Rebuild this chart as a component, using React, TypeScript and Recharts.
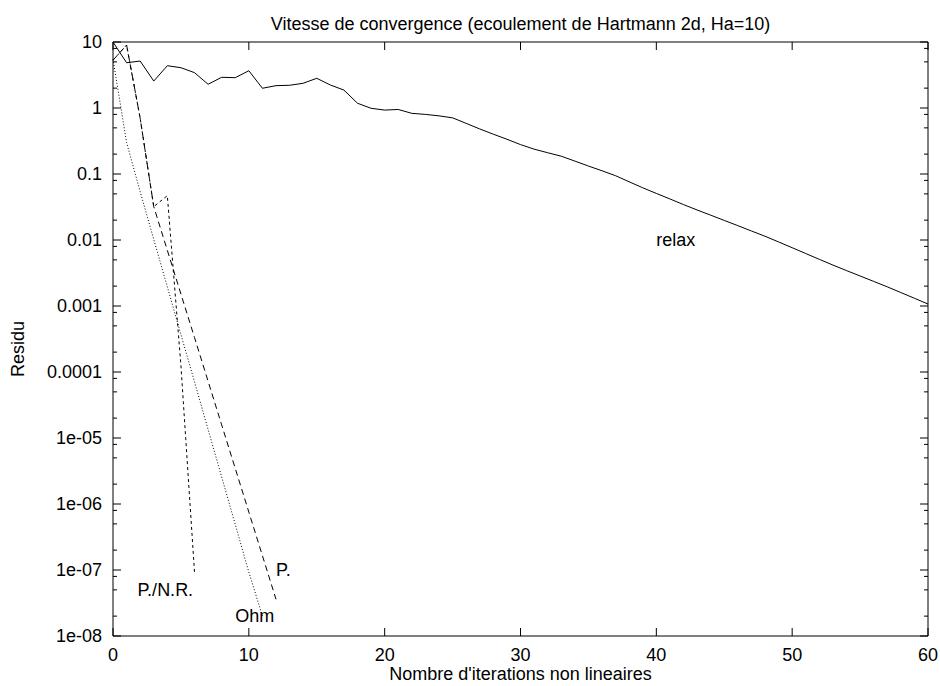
import { Customized, Line, LineChart, ReferenceDot, XAxis, YAxis } from "recharts";

const FONT = "'Liberation Sans', Arial, Helvetica, sans-serif";

const iterations = [
  0, 1, 2, 3, 4, 5, 6, 7, 8, 9, 10, 11, 12, 13, 14, 15, 16, 17, 18, 19, 20,
  21, 22, 23, 24, 25, 26, 27, 28, 29, 30, 31, 32, 33, 34, 35, 36, 37, 38, 39,
  40, 41, 42, 43, 44, 45, 46, 47, 48, 49, 50, 51, 52, 53, 54, 55, 56, 57, 58,
  59, 60,
];

// residual per iteration
const relax = [
  10, 4.85, 5.15, 2.56, 4.37, 4.08, 3.43, 2.29, 2.92, 2.88, 3.67, 1.99, 2.18,
  2.21, 2.37, 2.82, 2.23, 1.87, 1.18, 0.99, 0.93, 0.95, 0.83, 0.8, 0.76, 0.71,
  0.585, 0.481, 0.401, 0.336, 0.279, 0.238, 0.21, 0.186, 0.157, 0.132, 0.112,
  0.0942, 0.0762, 0.0618, 0.0508, 0.0419, 0.0344, 0.0285, 0.0238, 0.0198,
  0.0165, 0.0137, 0.0114, 0.00935, 0.00764, 0.00624, 0.00509, 0.00417,
  0.00344, 0.00285, 0.00236, 0.00195, 0.0016, 0.00131, 0.00107,
];
const picard = [
  5.3, 9.0, 0.7, 0.032, 6.98e-3, 1.52e-3, 3.33e-4, 7.26e-5, 1.58e-5, 3.46e-6,
  7.55e-7, 1.65e-7, 3.6e-8,
];
const picardNewton = [5.3, 9.0, 0.7, 0.032, 0.047, 1.26e-4, 9.3e-8];
const ohm = [
  5.5, 0.3, 0.054, 0.0102, 1.95e-3, 3.7e-4, 7.1e-5, 1.35e-5, 2.57e-6, 4.9e-7,
  9.3e-8, 2.0e-8,
];

const xTicks = [0, 10, 20, 30, 40, 50, 60];
const yMajor = [10, 1, 0.1, 0.01, 0.001, 0.0001, 1e-5, 1e-6, 1e-7, 1e-8];
const yLabels = [
  "10", "1", "0.1", "0.01", "0.001", "0.0001", "1e-05", "1e-06", "1e-07", "1e-08",
];
const minorSteps = [2, 5, 8];
const yMinor = yMajor.slice(1).flatMap((d) => minorSteps.map((m) => m * d));
const yTicks = [...yMajor, ...yMinor];

const curveLabels = [
  { x: 40, y: 0.01, text: "relax" },
  { x: 12, y: 1e-7, text: "P." },
  { x: 1.8, y: 5e-8, text: "P./N.R." },
  { x: 9, y: 2e-8, text: "Ohm" },
];

const rows = iterations.map((it, i) => ({
  it,
  relax: relax[i],
  picard: picard[i],
  picardNewton: picardNewton[i],
  ohm: ohm[i],
}));

const W = 940;
const H = 686;
const LEFT = 113;
const TOP = 42;
const RIGHT = 928;
const BOTTOM = 636;

const txt = { fontFamily: FONT, fontSize: 18, fill: "#000" };

function tickKind(v: number) {
  return yMajor.findIndex((m) => Math.abs(m - v) / m < 1e-9);
}

const LeftTick = (p: any) => {
  const idx = tickKind(p.payload.value);
  const len = idx >= 0 ? 8 : 4;
  return (
    <g>
      <line x1={p.x} x2={p.x + len} y1={p.y} y2={p.y} stroke="#000" />
      {idx >= 0 && (
        <text x={p.x - 11} y={p.y + 6} textAnchor="end" {...txt}>
          {yLabels[idx]}
        </text>
      )}
    </g>
  );
};

const RightTick = (p: any) => {
  const idx = tickKind(p.payload.value);
  const len = idx >= 0 ? 8 : 4;
  return <line x1={p.x} x2={p.x - len} y1={p.y} y2={p.y} stroke="#000" />;
};

const BottomTick = (p: any) => (
  <g>
    <line x1={p.x} x2={p.x} y1={p.y} y2={p.y - 8} stroke="#000" />
    <text x={p.x} y={p.y + 25} textAnchor="middle" {...txt}>
      {p.payload.value}
    </text>
  </g>
);

const TopTick = (p: any) => (
  <line x1={p.x} x2={p.x} y1={p.y} y2={p.y + 8} stroke="#000" />
);

const Titles = () => (
  <g>
    <text x={(LEFT + RIGHT) / 2} y={30} textAnchor="middle" {...txt}>
      Vitesse de convergence (ecoulement de Hartmann 2d, Ha=10)
    </text>
    <text x={(LEFT + RIGHT) / 2} y={680} textAnchor="middle" {...txt}>
      Nombre d'iterations non lineaires
    </text>
    <text
      x={24}
      y={(TOP + BOTTOM) / 2 + 10}
      textAnchor="middle"
      transform={`rotate(-90 24 ${(TOP + BOTTOM) / 2 + 10})`}
      {...txt}
    >
      Residu
    </text>
  </g>
);

export default function App() {
  return (
    <div style={{ position: "absolute", left: 0, top: 0, width: W, height: H, background: "#fff" }}>
      <LineChart
        width={W}
        height={H}
        data={rows}
        margin={{ top: 0, right: 0, bottom: 0, left: 0 }}
      >
        <XAxis
          xAxisId="b"
          dataKey="it"
          type="number"
          domain={[0, 60]}
          ticks={xTicks}
          interval={0}
          tickSize={0}
          tickMargin={0}
          tickLine={false}
          axisLine={{ stroke: "#000" }}
          height={H - BOTTOM}
          tick={BottomTick}
        />
        <XAxis
          xAxisId="t"
          orientation="top"
          dataKey="it"
          type="number"
          domain={[0, 60]}
          ticks={xTicks}
          interval={0}
          tickSize={0}
          tickMargin={0}
          tickLine={false}
          axisLine={{ stroke: "#000" }}
          height={TOP}
          tick={TopTick}
        />
        <YAxis
          yAxisId="l"
          type="number"
          scale="log"
          domain={[1e-8, 10]}
          allowDataOverflow
          ticks={yTicks}
          interval={0}
          tickSize={0}
          tickMargin={0}
          tickLine={false}
          axisLine={{ stroke: "#000" }}
          width={LEFT}
          tick={LeftTick}
        />
        <YAxis
          yAxisId="r"
          orientation="right"
          type="number"
          scale="log"
          domain={[1e-8, 10]}
          allowDataOverflow
          ticks={yTicks}
          interval={0}
          tickSize={0}
          tickMargin={0}
          tickLine={false}
          axisLine={{ stroke: "#000" }}
          width={W - RIGHT}
          tick={RightTick}
        />
        <Line xAxisId="b" yAxisId="l" dataKey="relax" stroke="#000" strokeWidth={1} dot={false} isAnimationActive={false} />
        <Line xAxisId="b" yAxisId="l" dataKey="picard" stroke="#000" strokeWidth={1} strokeDasharray="6 4" dot={false} isAnimationActive={false} />
        <Line xAxisId="b" yAxisId="l" dataKey="picardNewton" stroke="#000" strokeWidth={1} strokeDasharray="3 3" dot={false} isAnimationActive={false} />
        <Line xAxisId="b" yAxisId="l" dataKey="ohm" stroke="#000" strokeWidth={1} strokeDasharray="1 2" dot={false} isAnimationActive={false} />
        {curveLabels.map((l) => (
          <ReferenceDot
            key={l.text}
            xAxisId="b"
            yAxisId="l"
            x={l.x}
            y={l.y}
            r={0}
            shape={(p: any) => (
              <text x={p.cx} y={p.cy + 6} textAnchor="start" {...txt}>
                {l.text}
              </text>
            )}
          />
        ))}
        <Customized component={Titles} />
      </LineChart>
    </div>
  );
}
